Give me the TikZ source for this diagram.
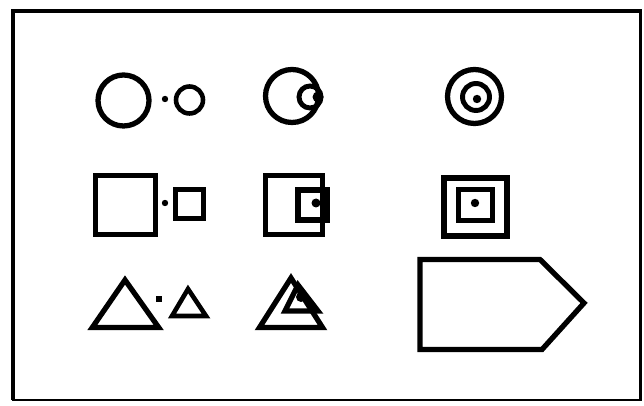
\documentclass[tikz,border=0pt]{standalone}
\usetikzlibrary{arrows.meta,positioning}
\begin{document}
\begin{tikzpicture}[x=0.02cm,y=0.02cm,every node/.style={font=\small}]
\useasboundingbox (0,0) rectangle (644,405);
\draw[line width=1.7pt] (13,5) rectangle (640,394);
\draw[line width=2.8pt] (13,5)--(13,394)--(640,394);
\coordinate (c1) at (123.5,304.5);
\coordinate (c1d) at (165,306);
\coordinate (c1s) at (189.5,305);
\coordinate (c2) at (292,309);
\coordinate (c2s) at (310,308);
\coordinate (c2d) at (318,308);
\coordinate (c3) at (474.5,308.5);
\coordinate (c3s) at (476,308);
\coordinate (c3d) at (477,306);
\draw[line width=3pt] (c1) circle (25.5);
\fill (c1d) circle (3.2);
\draw[line width=2.6pt] (c1s) circle (13.5);
\draw[line width=3pt] (c2) circle (26.5);
\draw[line width=2.8pt] (c2s) circle (11);
\fill (c2d) circle (5.5);
\draw[line width=3pt] (c3) circle (27);
\draw[line width=2.8pt] (c3s) circle (13.5);
\fill (c3d) circle (4.2);
\draw[line width=3pt] (95.5,170.5) rectangle (155.5,229.5);
\fill (165,202) circle (3.2);
\draw[line width=2.8pt] (175.5,186.5) rectangle (203.5,215.5);
\draw[line width=3pt] (265.5,170.5) rectangle (322.5,229.5);
\draw[line width=3pt] (298,185) rectangle (327.5,215);
\fill (316,202) circle (4.5);
\draw[line width=3.2pt] (444,169) rectangle (507,227);
\draw[line width=3pt] (458.5,184.5) rectangle (492.5,215.5);
\fill (475,202) circle (4.2);
\coordinate (t1a) at (125,125);
\coordinate (t1b) at (92.3,77.5);
\coordinate (t1c) at (158.7,77.5);
\coordinate (t2a) at (188,116);
\coordinate (t2b) at (172,89);
\coordinate (t2c) at (206,89);
\draw[line width=3pt] (t1a)--(t1b)--(t1c)--cycle;
\fill (156,103) rectangle (162,109);
\draw[line width=2.6pt] (t2a)--(t2b)--(t2c)--cycle;
\coordinate (t3a) at (291,127);
\coordinate (t3b) at (259.5,77.5);
\coordinate (t3c) at (322.5,77.5);
\coordinate (t4a) at (298,120);
\coordinate (t4b) at (285,94);
\coordinate (t4c) at (318,94);
\draw[line width=3pt] (t3a)--(t3b)--(t3c)--cycle;
\draw[line width=3pt] (t4a)--(t4b)--(t4c)--cycle;
\fill (301,108) circle (5);
\coordinate (p0) at (420,145.5);
\coordinate (p1) at (540,145.5);
\coordinate (p2) at (584,102);
\coordinate (p3) at (542,55.5);
\coordinate (p4) at (420,55.5);
\draw[line width=3pt] (p0)--(p1)--(p2)--(p3)--(p4)--cycle;
\end{tikzpicture}
\end{document}
